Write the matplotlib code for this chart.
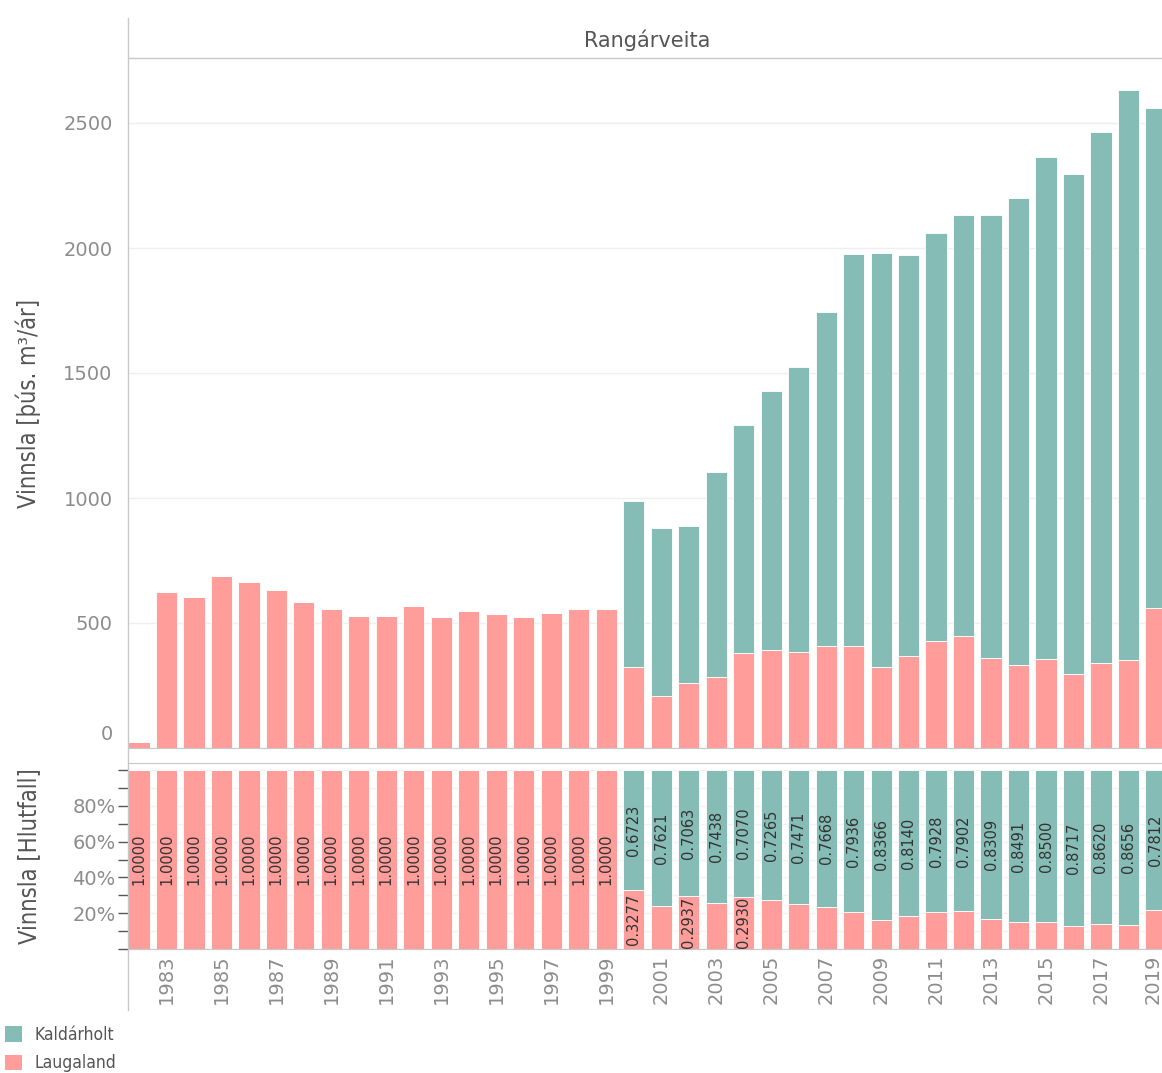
#!/usr/bin/env python3
"""Rangárveita: annual production by well field, volume and share."""

import matplotlib
matplotlib.use("Agg")
import matplotlib.pyplot as plt
import matplotlib.transforms as mtransforms
from matplotlib.patches import Patch
from matplotlib.lines import Line2D
import numpy as np

# ---------------------------------------------------------------------------
# Data
# ---------------------------------------------------------------------------
years = list(range(1982, 2020))
total = [23, 624, 603, 687, 664, 631, 585, 557, 529, 529, 568, 524, 547, 535,
         524, 540, 557, 557,
         986, 882, 889, 1104, 1291, 1427, 1522, 1742, 1974, 1979, 1974, 2059,
         2133, 2133, 2201, 2363, 2297, 2465, 2630, 2560]
kald_share = [0.0] * 18 + [0.6723, 0.7621, 0.7063, 0.7438, 0.7070, 0.7265,
                           0.7471, 0.7668, 0.7936, 0.8366, 0.8140, 0.7928,
                           0.7902, 0.8309, 0.8491, 0.8500, 0.8717, 0.8620,
                           0.8656, 0.7812]
series = ["Kaldárholt", "Laugaland"]
tick_years = list(range(1983, 2020, 2))

C_KALD = "#86bcb6"
C_LAUG = "#ff9d9a"
AX_GREY = "#c8c8c8"
TXT_GREY = "#8c8c8c"

x = np.array(years)
tot = np.array(total, dtype=float)
ks = np.array(kald_share)
ls = np.where(ks > 0, 1 - ks, 1.0)
laug = tot * ls
kald = tot - laug

W, H = 1162, 1073
fig = plt.figure(figsize=(W / 100, H / 100), dpi=100)


def fx(px):
    return px / W


def fy(py):
    return 1 - py / H


bar_w = 0.77

# ---------------------------------------------------------------------------
# Top panel: volumes
# ---------------------------------------------------------------------------
ax1 = fig.add_axes([fx(128), fy(748), 1 - fx(128), fy(58) - fy(748)])
ax1.bar(x, laug, width=bar_w, color=C_LAUG, edgecolor="white", linewidth=0.6, zorder=2)
ax1.bar(x, kald, width=bar_w, bottom=laug, color=C_KALD, edgecolor="white",
        linewidth=0.6, zorder=2)
ax1.set_xlim(1981.6, 2019.22)
ax1.set_ylim(0, 2760)
ax1.set_yticks([0, 500, 1000, 1500, 2000, 2500])
ax1.set_xticks([])
ax1.grid(axis="y", color="#efefef", linewidth=1, zorder=0)
ax1.tick_params(axis="y", length=0, pad=11, labelsize=14, labelcolor=TXT_GREY)
for s in ["top", "right", "left"]:
    ax1.spines[s].set_visible(False)
ax1.spines["bottom"].set_color(AX_GREY)
# Tableau lifts the zero label off the baseline
zero_lbl = ax1.get_yticklabels()[0]
zero_lbl.set_transform(zero_lbl.get_transform() +
                       mtransforms.ScaledTranslation(0, 0.15, fig.dpi_scale_trans))
ax1.set_ylabel("Vinnsla [þús. m³/ár]", fontsize=17, color="#555555",
               fontstretch="condensed")
ax1.yaxis.set_label_coords(-0.084, 0.50)

# ---------------------------------------------------------------------------
# Bottom panel: shares
# ---------------------------------------------------------------------------
ax2 = fig.add_axes([fx(128), fy(949), 1 - fx(128), fy(763) - fy(949)])
ax2.bar(x, ls, width=bar_w, color=C_LAUG, edgecolor="white", linewidth=0.6, zorder=2)
ax2.bar(x, ks, width=bar_w, bottom=ls, color=C_KALD, edgecolor="white",
        linewidth=0.6, zorder=2)
ax2.set_xlim(1981.6, 2019.22)
ax2.set_ylim(0, 1.04)
ax2.set_yticks(np.arange(0, 1.01, 0.1))
ax2.set_yticklabels(["", "", "20%", "", "40%", "", "60%", "", "80%", "", ""])
ax2.grid(axis="y", color="#f2f2f2", linewidth=1, zorder=0)
ax2.tick_params(axis="y", length=7, width=1, color="#555555", pad=2,
                labelsize=14, labelcolor=TXT_GREY)
ax2.set_xticks(tick_years)
ax2.set_xticklabels([str(t) for t in tick_years], rotation=90)
ax2.tick_params(axis="x", length=0, pad=4, labelsize=14, labelcolor=TXT_GREY)
# keep the last year label inside the canvas
last_lbl = ax2.get_xticklabels()[-1]
last_lbl.set_transform(last_lbl.get_transform() +
                       mtransforms.ScaledTranslation(-0.03, 0, fig.dpi_scale_trans))
ax2.spines["right"].set_visible(False)
ax2.spines["left"].set_visible(False)
ax2.spines["top"].set_color(AX_GREY)
ax2.spines["bottom"].set_color(AX_GREY)
ax2.set_ylabel("Vinnsla [Hlutfall]", fontsize=17, color="#555555",
               fontstretch="condensed")
ax2.yaxis.set_label_coords(-0.084, 0.5)

for xi, k, l in zip(x, ks, ls):
    if k > 0:
        ax2.text(xi, l + k / 2, f"{k:.4f}", rotation=90, ha="center", va="center",
                 fontsize=10.5, color="#333333", zorder=3)
    if l >= 0.29:
        ax2.text(xi, l / 2, f"{l:.4f}", rotation=90, ha="center", va="center",
                 fontsize=10.5, color="#333333", zorder=3)

# ---------------------------------------------------------------------------
# Header, frame lines and legend
# ---------------------------------------------------------------------------
fig.add_artist(Line2D([fx(128), fx(128)], [fy(18), fy(1010)], color=AX_GREY, lw=1))
fig.add_artist(Line2D([fx(128), 1], [fy(58), fy(58)], color=AX_GREY, lw=1))
fig.text(fx(647), fy(40), "Rangárveita", ha="center", va="center",
         fontsize=15, color="#555555")

handles = [Patch(facecolor=C_KALD), Patch(facecolor=C_LAUG)]
fig.legend(handles, series, loc="upper left", bbox_to_anchor=(0.004, fy(1026)),
           frameon=False, handlelength=1.0, handleheight=1.0, handletextpad=0.7,
           labelspacing=0.6, labelcolor="#555555", borderaxespad=0,
           borderpad=0, prop={"size": 12.5, "stretch": "condensed"})

fig.savefig("out.png", dpi=100)
